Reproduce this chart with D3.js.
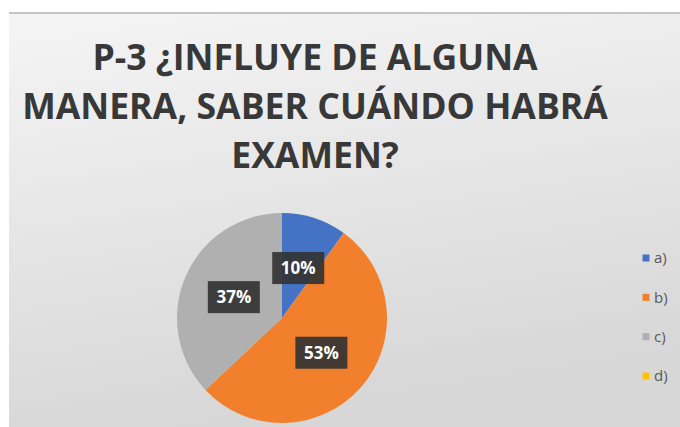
<!DOCTYPE html>
<html>
<head>
<meta charset="utf-8">
<title>P-3 ¿Influye de alguna manera, saber cuándo habrá examen?</title>
<script src="https://cdn.jsdelivr.net/npm/d3@7"></script>
<style>
  html, body { margin: 0; padding: 0; background: #ffffff; }
  svg { display: block; font-family: "Open Sans", "DejaVu Sans", sans-serif; }
</style>
</head>
<body>
<svg id="chart" width="680" height="427"></svg>
<script>
// data
var categories = ["a)", "b)", "c)", "d)"];
var values = [10, 53, 37, 0];
var colors = ["#4472C4", "#F27F2C", "#B0B0B0", "#FFC000"];
var titleLines = ["P-3 ¿INFLUYE DE ALGUNA", "MANERA, SABER CUÁNDO HABRÁ", "EXAMEN?"];

var svg = d3.select("#chart");

// panel background, light gray gradient like the photo
var defs = svg.append("defs");
var grad = defs.append("linearGradient")
    .attr("id", "bg").attr("x1", 0).attr("y1", 0).attr("x2", 0.25).attr("y2", 1);
grad.append("stop").attr("offset", "0%").attr("stop-color", "#f5f5f5");
grad.append("stop").attr("offset", "100%").attr("stop-color", "#d7d7d7");

svg.append("rect")
    .attr("x", 9).attr("y", 12).attr("width", 671).attr("height", 415)
    .attr("fill", "url(#bg)");
svg.append("line")
    .attr("x1", 9).attr("x2", 680).attr("y1", 13).attr("y2", 13)
    .attr("stroke", "#c4c4c4").attr("stroke-width", 2);

// title
var titleX = 315;
var title = svg.append("g").attr("class", "title");
title.selectAll("text")
    .data(titleLines)
    .enter()
    .append("text")
    .attr("x", 0)
    .attr("y", function(d, i) { return 70 + i * 49; })
    .attr("text-anchor", "middle")
    .attr("font-size", 35)
    .attr("font-weight", "bold")
    .attr("fill", "#383838")
    .text(function(d) { return d; });
// calibri is narrower than open sans, so squeeze the title to the width of line 2
var widest = title.selectAll("text").nodes()[1].getComputedTextLength();
var squeeze = 586 / widest;
title.attr("transform", "translate(" + titleX + ",0) scale(" + squeeze + ",1)");

// pie
var cx = 282, cy = 318, radius = 105;
var pie = d3.pie().sort(null).value(function(d) { return d; });
var arcs = pie(values);
var arc = d3.arc().innerRadius(0).outerRadius(radius);
var labelArc = d3.arc().innerRadius(radius * 0.5).outerRadius(radius * 0.5);

var g = svg.append("g").attr("transform", "translate(" + cx + "," + cy + ")");
g.selectAll("path")
    .data(arcs)
    .enter()
    .append("path")
    .attr("d", arc)
    .attr("fill", function(d, i) { return colors[i]; });

// data labels, dark boxes with white text
var labels = g.selectAll("g.label")
    .data(arcs.filter(function(d) { return d.value > 0; }))
    .enter()
    .append("g")
    .attr("class", "label")
    .attr("transform", function(d) { return "translate(" + labelArc.centroid(d) + ")"; });
labels.append("rect")
    .attr("x", -26).attr("y", -16).attr("width", 52).attr("height", 32)
    .attr("fill", "#333333").attr("fill-opacity", 0.92);
labels.append("text")
    .attr("text-anchor", "middle")
    .attr("dy", "0.36em")
    .attr("font-size", 17)
    .attr("font-weight", "bold")
    .attr("fill", "#ffffff")
    .text(function(d) { return d.value + "%"; });

// legend
var legendY = d3.scalePoint().domain(categories).range([258, 376]);
var legend = svg.append("g").selectAll("g")
    .data(categories)
    .enter()
    .append("g")
    .attr("transform", function(d) { return "translate(646," + legendY(d) + ")"; });
legend.append("rect")
    .attr("x", -3.5).attr("y", -3.5).attr("width", 7).attr("height", 7)
    .attr("fill", function(d, i) { return colors[i]; });
legend.append("text")
    .attr("x", 8)
    .attr("dy", "0.35em")
    .attr("font-size", 15)
    .attr("fill", "#595959")
    .text(function(d) { return d; });
</script>
</body>
</html>
